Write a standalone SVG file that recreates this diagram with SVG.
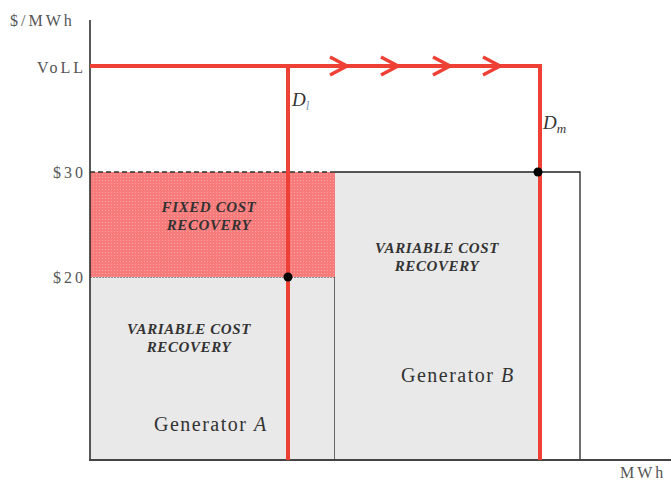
<svg xmlns="http://www.w3.org/2000/svg" width="671" height="482" viewBox="0 0 671 482">
<style>
.ax{font-family:"Liberation Serif",serif;font-size:16px;letter-spacing:3px;fill:#555}
.lbl{font-family:"Liberation Serif",serif;font-size:15px;font-weight:bold;font-style:italic;letter-spacing:0.6px;fill:#333;text-anchor:middle}
.gen{font-family:"Liberation Serif",serif;font-size:20px;letter-spacing:1.5px;fill:#333}
.red{stroke:#ee4035;stroke-width:4;fill:none}
.blk{stroke:#222;stroke-width:1.3;fill:none}
</style>
<defs>
<pattern id="hatch" width="3" height="3" patternUnits="userSpaceOnUse">
<rect width="3" height="3" fill="#f77b7b"/>
<rect width="1" height="1" fill="#f9a0a0"/>
</pattern>
</defs>
<rect width="671" height="482" fill="#fff"/>
<g id="genA">
<rect x="90" y="277" width="245" height="183" fill="#e9e9e9"/>
<line x1="90" y1="277" x2="335" y2="277" stroke="#333" stroke-width="1.2" stroke-dasharray="2,1"/>
<line x1="335" y1="172" x2="335" y2="460" class="blk"/>
<text class="lbl" x="189" y="334">VARIABLE COST</text>
<text class="lbl" x="189" y="352">RECOVERY</text>
<text class="gen" x="154" y="431">Generator <tspan font-style="italic">A</tspan></text>
</g>
<g id="fixed">
<rect x="90" y="172" width="245" height="105" fill="url(#hatch)"/>
<line x1="90" y1="172" x2="335" y2="172" stroke="#333" stroke-width="1.4" stroke-dasharray="5,3"/>
<text class="lbl" x="209" y="212">FIXED COST</text>
<text class="lbl" x="209" y="230">RECOVERY</text>
</g>
<g id="genB">
<rect x="335" y="172" width="205" height="288" fill="#e9e9e9"/>
<polyline points="335,172 580,172 580,460" class="blk"/>
<text class="lbl" x="437" y="253">VARIABLE COST</text>
<text class="lbl" x="437" y="271">RECOVERY</text>
<text class="gen" x="401" y="382">Generator <tspan font-style="italic">B</tspan></text>
</g>
<g id="axes">
<line x1="90" y1="20" x2="90" y2="461" stroke="#222" stroke-width="1.5"/>
<line x1="89" y1="460" x2="671" y2="460" stroke="#444" stroke-width="1.8"/>
<text class="ax" x="10" y="26">$/MWh</text>
<text class="ax" x="86" y="73" text-anchor="end">VoLL</text>
<text class="ax" x="86" y="178" text-anchor="end">$30</text>
<text class="ax" x="86" y="283" text-anchor="end">$20</text>
<text class="ax" x="620" y="478">MWh</text>
</g>
<g id="connectors">
<polyline class="red" points="90,66 540,66 540,460"/>
<line class="red" x1="288" y1="66" x2="288" y2="460"/>
<g stroke="#ee4035" stroke-width="3.5" fill="none" stroke-linejoin="miter">
<polyline points="330,57 347,66 330,75"/>
<polyline points="381,57 398,66 381,75"/>
<polyline points="433,57 450,66 433,75"/>
<polyline points="483,57 500,66 483,75"/>
</g>
<circle cx="288" cy="277" r="4.5" fill="#000"/>
<circle cx="538" cy="172" r="4.5" fill="#000"/>
</g>
<g id="labels">
<text x="292" y="106" font-family="Liberation Serif,serif" font-size="19" font-style="italic" fill="#333">D<tspan font-size="13" dy="4" fill="#7a9ab8">l</tspan></text>
<text x="543" y="129" font-family="Liberation Serif,serif" font-size="19" font-style="italic" fill="#333">D<tspan font-size="13" dy="4">m</tspan></text>
</g>
</svg>
